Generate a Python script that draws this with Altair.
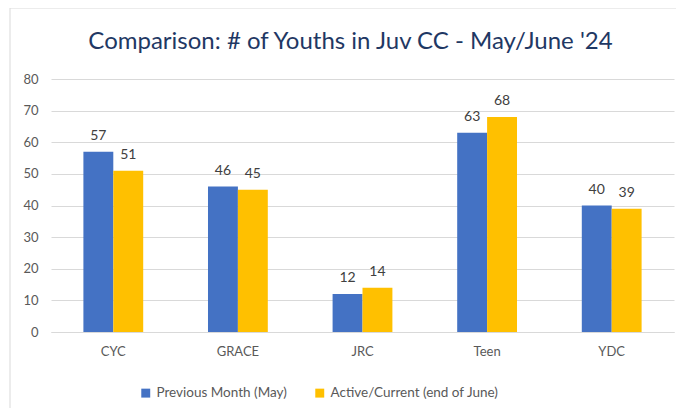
import altair as alt
import pandas as pd

categories = ["CYC", "GRACE", "JRC", "Teen", "YDC"]
series_names = ["Previous Month (May)", "Active/Current (end of June)"]
may_values = [57, 46, 12, 63, 40]
june_values = [51, 45, 14, 68, 39]
y_ticks = [0, 10, 20, 30, 40, 50, 60, 70, 80]
series_colors = ["#4472C4", "#FFC000"]

rows = []
for c, m, j in zip(categories, may_values, june_values):
    rows.append({"Facility": c, "Series": series_names[0], "Count": m})
    rows.append({"Facility": c, "Series": series_names[1], "Count": j})
df = pd.DataFrame(rows)

FONT = "Lato"
GREY = "#595959"

base = alt.Chart(df).encode(
    x=alt.X(
        "Facility:N",
        sort=categories,
        scale=alt.Scale(paddingInner=0.52, paddingOuter=0.26),
        axis=alt.Axis(
            title=None, labelAngle=0, ticks=False, domainColor="#D9D9D9",
            labelColor=GREY, labelFontSize=13, labelPadding=13, labelFont=FONT,
        ),
    ),
    xOffset=alt.XOffset(
        "Series:N", sort=series_names,
        scale=alt.Scale(paddingInner=0, paddingOuter=0),
    ),
    y=alt.Y(
        "Count:Q",
        scale=alt.Scale(domain=[0, 80]),
        axis=alt.Axis(
            title=None, values=y_ticks, domain=False, ticks=False,
            gridColor="#D9D9D9", labelColor=GREY, labelFontSize=13,
            labelPadding=13, labelFont=FONT,
        ),
    ),
)

bars = base.mark_bar().encode(
    color=alt.Color(
        "Series:N",
        sort=series_names,
        scale=alt.Scale(domain=series_names, range=series_colors),
        legend=alt.Legend(
            title=None, orient="none", direction="horizontal",
            legendX=88, legendY=307, symbolType="square", symbolSize=80,
            symbolStrokeWidth=0, labelFontSize=13.5, labelColor=GREY,
            labelFont=FONT, columnPadding=26, labelOffset=4, padding=0,
            labelLimit=400,
        ),
    )
)

labels = base.mark_text(
    baseline="bottom", dy=-9, fontSize=14, color="#404040", font=FONT
).encode(text="Count:Q")

frame = alt.Chart(pd.DataFrame({"a": [0]})).mark_rect(
    fillOpacity=0, stroke="#D9D9D9", strokeWidth=1
).encode(
    x=alt.value(-41), x2=alt.value(700), y=alt.value(-71), y2=alt.value(400)
)

chart = alt.layer(frame, bars, labels).properties(
    width=623,
    height=253,
    padding={"left": 43, "top": 71, "right": 2, "bottom": 76},
    autosize=alt.AutoSizeParams(type="none"),
    title=alt.TitleParams(
        "Comparison: # of Youths in Juv CC - May/June '24",
        fontSize=24, font=FONT, color="#1F3864", fontWeight="normal",
        anchor="middle", offset=-46, dx=-12,
    ),
).configure_view(stroke=None)

chart.save("out.html", embed_options={"renderer": "svg", "actions": False})
